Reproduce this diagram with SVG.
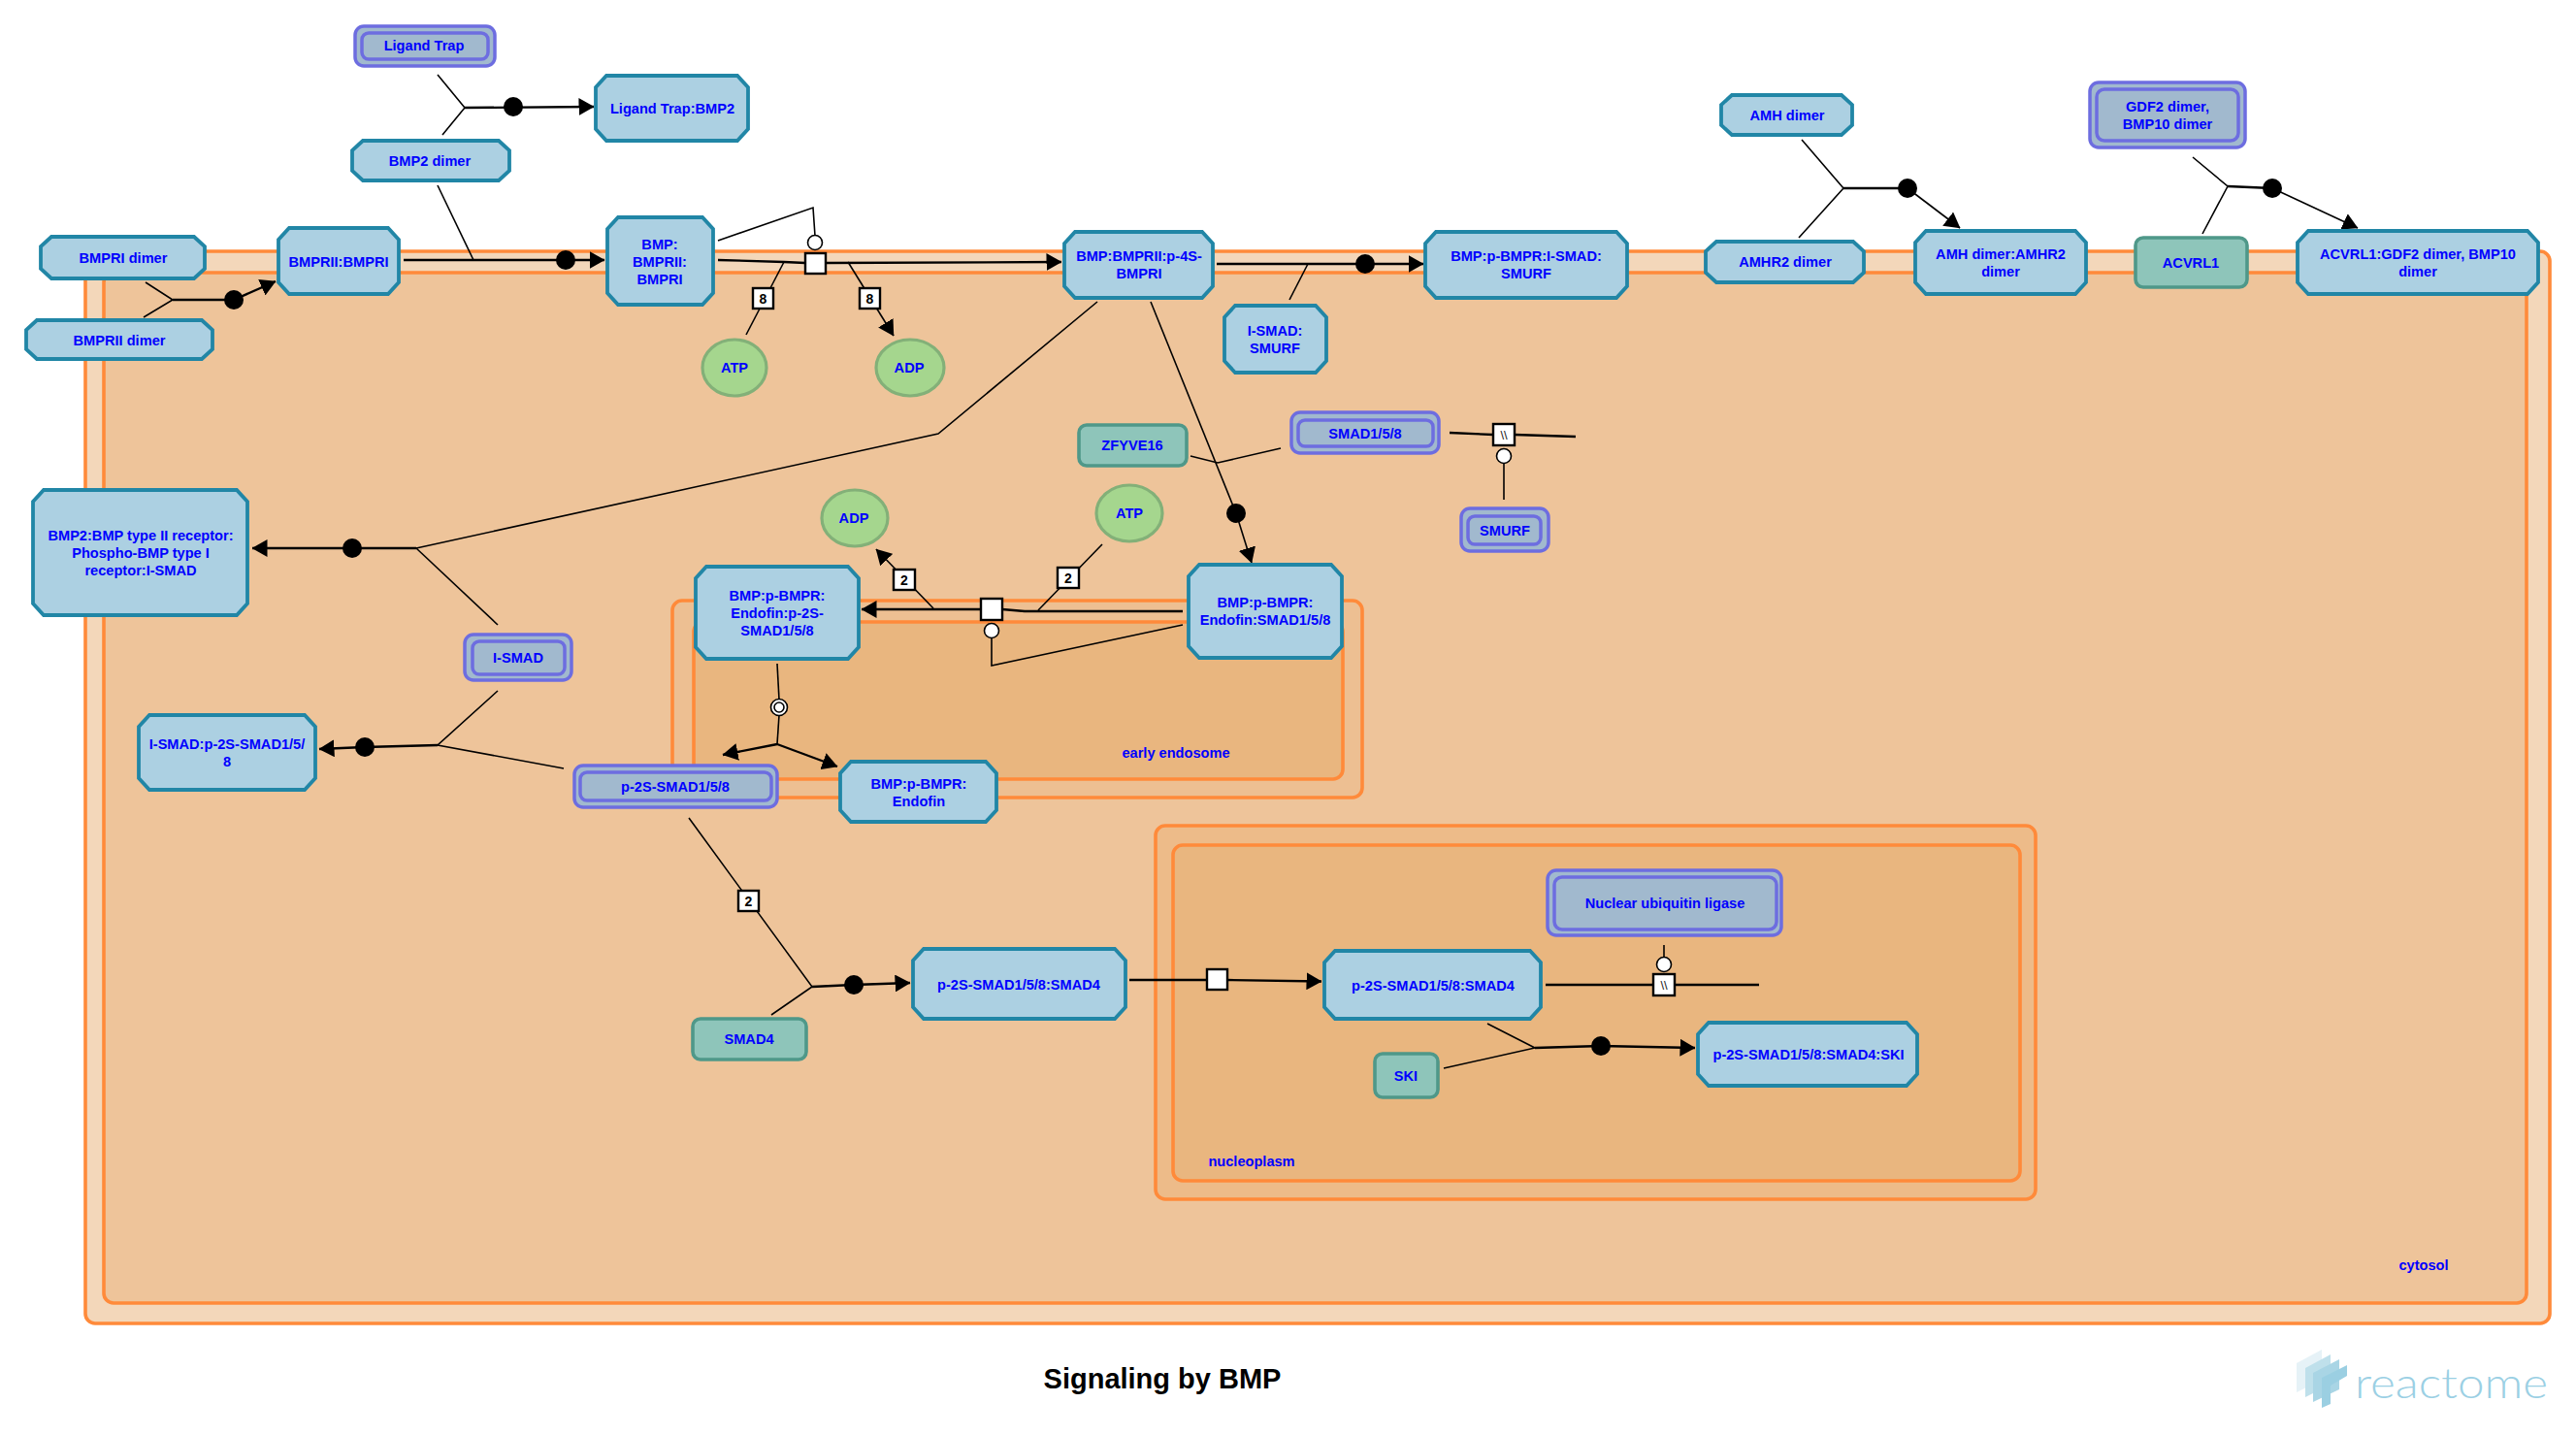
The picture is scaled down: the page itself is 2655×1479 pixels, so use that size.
<svg xmlns="http://www.w3.org/2000/svg" width="2655" height="1479" viewBox="0 0 2655 1479">
<style>
text{font-family:"Liberation Sans",Arial,sans-serif;font-weight:bold;font-size:14.6px;fill:#0000ff;text-anchor:middle;dominant-baseline:central}
.comp{stroke:#ff8a3a;stroke-width:3.6}
.cx{fill:#acd0e2;stroke:#2186a6;stroke-width:3.8}
.st{fill:#a1b9ce;stroke:#6d6de0;stroke-width:3.5}
.pr{fill:#8ec5ba;stroke:#4f9889;stroke-width:3.6}
.ch{fill:#a5d68e;stroke:#83b078;stroke-width:3.2}
.l{fill:none;stroke:#000;stroke-width:1.6}
.m{fill:none;stroke:#000;stroke-width:2.3}
.a{marker-end:url(#arrow)}
.d{fill:#000}
.o{fill:#fff;stroke:#000;stroke-width:1.6}
.b{fill:#fff;stroke:#000;stroke-width:2.4}
.n{fill:#000;font-size:14px}
.t{fill:#222;font-weight:normal;font-size:13px}
</style>
<defs>
<marker id="arrow" markerUnits="userSpaceOnUse" markerWidth="16" markerHeight="18" refX="15.5" refY="9" orient="auto"><path d="M0 0L16 9L0 18z" fill="#000"/></marker>
</defs>
<rect width="2655" height="1479" fill="#fff"/>
<g id="compartments">
<rect class="comp" x="88" y="259" width="2540" height="1105" rx="10" fill="#f3d7ba"/>
<rect class="comp" x="107" y="281" width="2497" height="1062" rx="10" fill="#eec49a"/>
<rect class="comp" x="693" y="619" width="711" height="203" rx="10" fill="#edbf92"/>
<rect class="comp" x="715" y="641" width="669" height="162" rx="10" fill="#e9b67f"/>
<rect class="comp" x="1191" y="851" width="907" height="385" rx="10" fill="#edbb89"/>
<rect class="comp" x="1209" y="871" width="873" height="346" rx="10" fill="#e9b67f"/>
<text x="1212" y="776">early endosome</text>
<text x="1290" y="1197">nucleoplasm</text>
<text x="2498" y="1304">cytosol</text>
</g>
<g id="connectors">
<path class="l" d="M451 77L479 111L456 139"/>
<path class="m a" d="M479 111L612 110"/>
<circle class="d" cx="529" cy="110" r="10"/>
<path class="l" d="M150 291L178 309L148 327"/>
<path class="m" d="M178 309L241 309"/>
<path class="m a" d="M241 309L284 290"/>
<circle class="d" cx="241" cy="309" r="10"/>
<path class="l" d="M451 191L488 268"/>
<path class="m a" d="M416 268L623 268"/>
<circle class="d" cx="583" cy="268" r="10"/>
<path class="m" d="M740 268L808 270L830 271"/>
<path class="m a" d="M851 271L1094 270"/>
<path class="l" d="M740 248L838 214L840 243"/>
<circle class="o" cx="840" cy="250" r="7.5"/>
<rect class="b" x="830" y="261" width="21" height="21"/>
<path class="l" d="M808 270L769 345"/>
<rect class="b" x="776" y="297" width="21" height="21"/>
<text class="n" x="786.500" y="307.500">8</text>
<path class="l a" d="M874 270L921 346"/>
<rect class="b" x="886" y="297" width="21" height="21"/>
<text class="n" x="896.500" y="307.500">8</text>
<path class="m a" d="M1254 272L1467 272"/>
<circle class="d" cx="1407" cy="272" r="10"/>
<path class="l" d="M1348 272L1329 309"/>
<path class="l" d="M1131 311L967 447L429 565"/>
<path class="m a" d="M429 565L260 565"/>
<circle class="d" cx="363" cy="565" r="10"/>
<path class="l" d="M429 565L513 644"/>
<path class="l" d="M513 712L451 768L581 792"/>
<path class="m a" d="M451 768L376 770L329 772"/>
<circle class="d" cx="376" cy="770" r="10"/>
<path class="l" d="M710 843L837 1017L795 1046"/>
<rect class="b" x="761" y="918" width="21" height="21"/>
<text class="n" x="771.500" y="928.500">2</text>
<path class="m a" d="M837 1017L880 1015L938 1013"/>
<circle class="d" cx="880" cy="1015" r="10"/>
<path class="m" d="M1164 1010L1244 1010"/>
<path class="m a" d="M1265 1010L1362 1011.500"/>
<rect class="b" x="1244" y="999" width="21" height="21"/>
<path class="m" d="M1593 1015L1813 1015"/>
<path class="l" d="M1715 974L1715 987"/>
<circle class="o" cx="1715" cy="994" r="7.5"/>
<rect class="b" x="1704" y="1004" width="22" height="22"/>
<text class="t" x="1715" y="1015">\\</text>
<path class="l" d="M1533 1055L1582 1080L1488 1101"/>
<path class="m a" d="M1582 1080L1650 1078L1747 1080"/>
<circle class="d" cx="1650" cy="1078" r="10"/>
<path class="m" d="M1219 630L1056 630L1033 628"/>
<path class="m a" d="M1011 628L888 628"/>
<rect class="b" x="1011" y="617" width="22" height="22"/>
<path class="l" d="M1136 561L1070 629"/>
<rect class="b" x="1090" y="585" width="22" height="21"/>
<text class="n" x="1101" y="595.500">2</text>
<path class="l a" d="M962 627L903 566"/>
<rect class="b" x="921" y="587" width="22" height="21"/>
<text class="n" x="932" y="597.500">2</text>
<path class="l" d="M1219 644L1022 686L1022 658"/>
<circle class="o" cx="1022" cy="650" r="7.5"/>
<path class="l" d="M1186 311L1274 529"/>
<path class="l a" d="M1274 529L1290 580"/>
<circle class="d" cx="1274" cy="529" r="10"/>
<path class="l" d="M1227 470L1255 477L1320 462"/>
<path class="m" d="M1494 446L1539 448"/>
<path class="m" d="M1561 448L1624 450"/>
<rect class="b" x="1539" y="437" width="22" height="22"/>
<text class="t" x="1550" y="448">\\</text>
<path class="l" d="M1550 477L1550 515"/>
<circle class="o" cx="1550" cy="470" r="7.5"/>
<path class="l" d="M801 684L803 721"/>
<path class="l" d="M803 737L801 767"/>
<circle class="o" cx="803" cy="729" r="8.500"/>
<circle class="o" cx="803" cy="729" r="5"/>
<path class="m a" d="M801 767L745 778"/>
<path class="m a" d="M801 767L863 790"/>
<path class="l" d="M1857 144L1900 194L1854 245"/>
<path class="m" d="M1900 194L1966 194"/>
<path class="l a" d="M1966 194L2020 235"/>
<circle class="d" cx="1966" cy="194" r="10"/>
<path class="l" d="M2260 162L2296 192L2270 241"/>
<path class="m" d="M2296 192L2342 194"/>
<path class="l a" d="M2342 194L2430 235"/>
<circle class="d" cx="2342" cy="194" r="10"/>
</g>
<g id="n-ligand-trap"><rect class="st" x="366" y="27" width="144" height="41" rx="9"/><rect class="st" x="373" y="34" width="130" height="27" rx="7"/><text x="437" y="47">Ligand Trap</text></g>
<g id="n-ligand-trap-bmp2"><path class="cx" d="M625 78H760L771 90V133L760 145H625L614 133V90Z"/><text x="693" y="112">Ligand Trap:BMP2</text></g>
<g id="n-bmp2"><path class="cx" d="M374 145H514L525 155V176L514 186H374L363 176V155Z"/><text x="443" y="166">BMP2 dimer</text></g>
<g id="n-bmpri"><path class="cx" d="M53 244H200L211 254V277L200 287H53L42 277V254Z"/><text x="127" y="266">BMPRI dimer</text></g>
<g id="n-bmprii"><path class="cx" d="M38 330H208L219 340V360L208 370H38L27 360V340Z"/><text x="123" y="351">BMPRII dimer</text></g>
<g id="n-bmprii-bmpri"><path class="cx" d="M298 235H400L411 247V291L400 303H298L287 291V247Z"/><text x="349" y="270">BMPRII:BMPRI</text></g>
<g id="n-bmp-bmprii-bmpri"><path class="cx" d="M637 224H724L735 236V302L724 314H637L626 302V236Z"/><text x="680" y="252">BMP:</text><text x="680" y="270">BMPRII:</text><text x="680" y="288">BMPRI</text></g>
<g id="n-atp1"><ellipse class="ch" cx="757" cy="379" rx="33" ry="29"/><text x="757" y="379">ATP</text></g>
<g id="n-adp1"><ellipse class="ch" cx="938" cy="379" rx="35" ry="29"/><text x="937" y="379">ADP</text></g>
<g id="n-p4s"><path class="cx" d="M1108 239H1239L1250 251V295L1239 307H1108L1097 295V251Z"/><text x="1174" y="264">BMP:BMPRII:p-4S-</text><text x="1174" y="282">BMPRI</text></g>
<g id="n-ismad-smurf-complex"><path class="cx" d="M1480 239H1666L1677 251V295L1666 307H1480L1469 295V251Z"/><text x="1573" y="264">BMP:p-BMPR:I-SMAD:</text><text x="1573" y="282">SMURF</text></g>
<g id="n-ismad-smurf"><path class="cx" d="M1273 315H1356L1367 327V372L1356 384H1273L1262 372V327Z"/><text x="1314" y="341">I-SMAD:</text><text x="1314" y="359">SMURF</text></g>
<g id="n-zfyve16"><rect class="pr" x="1112" y="438" width="111" height="42" rx="8"/><text x="1167" y="459">ZFYVE16</text></g>
<g id="n-smad158"><rect class="st" x="1331" y="425" width="152" height="42" rx="9"/><rect class="st" x="1338" y="433" width="139" height="27" rx="7"/><text x="1407" y="447">SMAD1/5/8</text></g>
<g id="n-smurf"><rect class="st" x="1506" y="524" width="90" height="44" rx="9"/><rect class="st" x="1513" y="532" width="75" height="29" rx="7"/><text x="1551" y="547">SMURF</text></g>
<g id="n-atp2"><ellipse class="ch" cx="1164" cy="529" rx="34" ry="29"/><text x="1164" y="529">ATP</text></g>
<g id="n-adp2"><ellipse class="ch" cx="881" cy="534" rx="34" ry="29"/><text x="880" y="534">ADP</text></g>
<g id="n-bmp2-complex"><path class="cx" d="M45 505H244L255 517V622L244 634H45L34 622V517Z"/><text x="145" y="552">BMP2:BMP type II receptor:</text><text x="145" y="570">Phospho-BMP type I</text><text x="145" y="588">receptor:I-SMAD</text></g>
<g id="n-ismad"><rect class="st" x="479" y="654" width="110" height="47" rx="9"/><rect class="st" x="487" y="661" width="95" height="34" rx="7"/><text x="534" y="678">I-SMAD</text></g>
<g id="n-ismad-p2s"><path class="cx" d="M154 737H314L325 749V802L314 814H154L143 802V749Z"/><text x="234" y="767">I-SMAD:p-2S-SMAD1/5/</text><text x="234" y="785">8</text></g>
<g id="n-p2s"><rect class="st" x="592" y="789" width="209" height="43" rx="9"/><rect class="st" x="598" y="796" width="197" height="29" rx="7"/><text x="696" y="811">p-2S-SMAD1/5/8</text></g>
<g id="n-endofin-p2s"><path class="cx" d="M728 584H874L885 596V667L874 679H728L717 667V596Z"/><text x="801" y="614">BMP:p-BMPR:</text><text x="801" y="632">Endofin:p-2S-</text><text x="801" y="650">SMAD1/5/8</text></g>
<g id="n-endofin-smad"><path class="cx" d="M1236 582H1372L1383 594V666L1372 678H1236L1225 666V594Z"/><text x="1304" y="621">BMP:p-BMPR:</text><text x="1304" y="639">Endofin:SMAD1/5/8</text></g>
<g id="n-endofin"><path class="cx" d="M877 785H1016L1027 797V835L1016 847H877L866 835V797Z"/><text x="947" y="808">BMP:p-BMPR:</text><text x="947" y="826">Endofin</text></g>
<g id="n-smad4"><rect class="pr" x="714" y="1050" width="117" height="42" rx="8"/><text x="772" y="1071">SMAD4</text></g>
<g id="n-p2s-smad4-a"><path class="cx" d="M952 978H1149L1160 990V1038L1149 1050H952L941 1038V990Z"/><text x="1050" y="1015">p-2S-SMAD1/5/8:SMAD4</text></g>
<g id="n-p2s-smad4-b"><path class="cx" d="M1376 980H1577L1588 992V1038L1577 1050H1376L1365 1038V992Z"/><text x="1477" y="1016">p-2S-SMAD1/5/8:SMAD4</text></g>
<g id="n-nuc-ligase"><rect class="st" x="1595" y="897" width="241" height="67" rx="9"/><rect class="st" x="1602" y="904" width="229" height="54" rx="8"/><text x="1716" y="931">Nuclear ubiquitin ligase</text></g>
<g id="n-ski"><rect class="pr" x="1417" y="1086" width="65" height="45" rx="8"/><text x="1449" y="1109">SKI</text></g>
<g id="n-p2s-smad4-ski"><path class="cx" d="M1761 1054H1965L1976 1066V1107L1965 1119H1761L1750 1107V1066Z"/><text x="1864" y="1087">p-2S-SMAD1/5/8:SMAD4:SKI</text></g>
<g id="n-amh"><path class="cx" d="M1785 98H1898L1909 108V129L1898 139H1785L1774 129V108Z"/><text x="1842" y="119">AMH dimer</text></g>
<g id="n-amhr2"><path class="cx" d="M1769 249H1910L1921 259V281L1910 291H1769L1758 281V259Z"/><text x="1840" y="270">AMHR2 dimer</text></g>
<g id="n-amh-amhr2"><path class="cx" d="M1985 238H2139L2150 250V291L2139 303H1985L1974 291V250Z"/><text x="2062" y="262">AMH dimer:AMHR2</text><text x="2062" y="280">dimer</text></g>
<g id="n-acvrl1"><rect class="pr" x="2201" y="245" width="115" height="51" rx="8"/><text x="2258" y="271">ACVRL1</text></g>
<g id="n-acvrl1-gdf2"><path class="cx" d="M2379 238H2605L2616 250V291L2605 303H2379L2368 291V250Z"/><text x="2492" y="262">ACVRL1:GDF2 dimer, BMP10</text><text x="2492" y="280">dimer</text></g>
<g id="n-gdf2"><rect class="st" x="2154" y="85" width="160" height="67" rx="9"/><rect class="st" x="2161" y="92" width="146" height="53" rx="8"/><text x="2234" y="110">GDF2 dimer,</text><text x="2234" y="128">BMP10 dimer</text></g>
<text x="1198" y="1421" style="fill:#000;font-size:29px">Signaling by BMP</text>
<g id="logo">
<path d="M2367 1405L2393 1391V1422L2367 1435Z" fill="#e6f2f7"/>
<path d="M2376 1410L2402 1396V1427L2376 1440Z" fill="#bfe0eb"/>
<path d="M2384 1415L2411 1401V1432L2384 1445Z" fill="#a9d5e5"/>
<path d="M2393 1420L2419 1407V1418L2402 1428V1447L2393 1451Z" fill="#9bcfe2"/>
<text x="2526.500" y="1424" textLength="199" lengthAdjust="spacingAndGlyphs" style="font-family:Lato,'Noto Sans',sans-serif;font-weight:300;font-size:44px;fill:#9bd0e4">reactome</text>
</g>
</svg>
